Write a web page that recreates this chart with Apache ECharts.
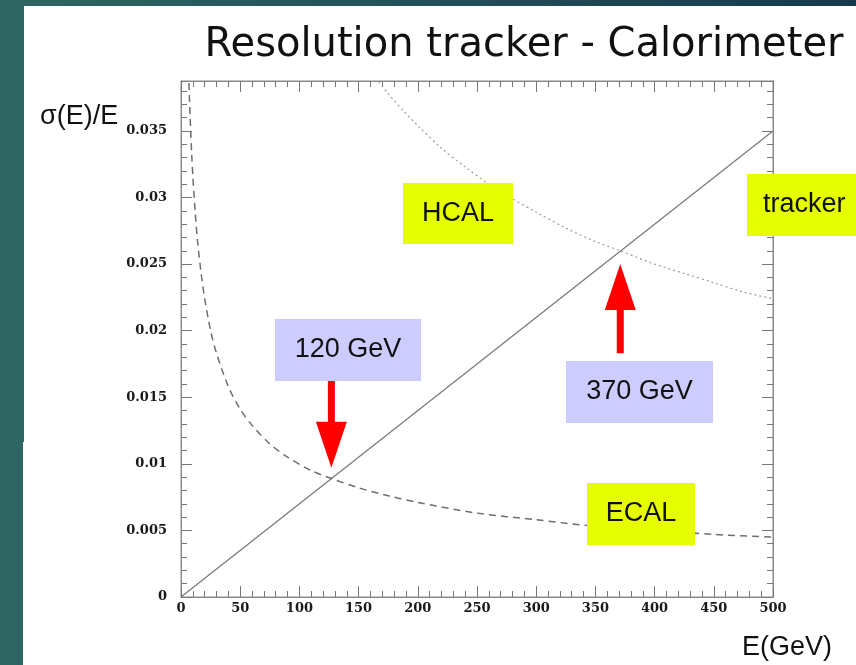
<!DOCTYPE html>
<html>
<head>
<meta charset="utf-8">
<script src="https://cdn.jsdelivr.net/npm/echarts@6/dist/echarts.min.js"></script>
<style>
  html, body { margin: 0; padding: 0; background: #ffffff; }
  #chart { width: 856px; height: 665px; }
</style>
</head>
<body>
<div id="chart"></div>
<script>
// Energy resolution sigma(E)/E versus energy E (GeV)
const trackerEnergy = [0, 500];
const trackerRes    = [0, 0.035];

const ecalEnergy = [6.7, 7, 8, 9, 10, 12, 14, 17, 20, 25, 30, 40, 50, 60, 75, 90, 110, 127, 150, 175, 200, 250, 300, 350, 400, 450, 500];
const ecalRes    = [0.0386, 0.0378, 0.0354, 0.0333, 0.0316, 0.0289, 0.0267, 0.0243, 0.0224, 0.0200, 0.0183, 0.0158, 0.0141, 0.0129, 0.0115, 0.0105, 0.0095, 0.0089, 0.0082, 0.0076, 0.0071, 0.0063, 0.0058, 0.0053, 0.0050, 0.0047, 0.0045];

const hcalEnergy = [167, 175, 190, 200, 220, 240, 260, 280, 300, 325, 350, 371, 400, 425, 450, 475, 500];
const hcalRes    = [0.0387, 0.0378, 0.0363, 0.0354, 0.0337, 0.0323, 0.0310, 0.0299, 0.0289, 0.0277, 0.0267, 0.0260, 0.0250, 0.0243, 0.0236, 0.0229, 0.0224];

// Arrows marking where the tracker line crosses each calorimeter curve
const crossEnergy = [127, 371];
const arrowTip    = [0.0097, 0.0250];
const arrowTail   = [0.0169, 0.0183];

const pairs = (xs, ys) => xs.map((x, i) => [x, ys[i]]);

const tickFont = { fontFamily: 'DejaVu Serif', fontWeight: 'bold', fontSize: 13, color: '#1a1a1a' };
const frameColor = '#8a8a8a';

function xAxisDef(pos) {
  return {
    type: 'value', position: pos, min: 0, max: 500, interval: 50,
    axisLine: { show: true, onZero: false, lineStyle: { color: frameColor, width: 1 } },
    axisTick: { show: true, inside: true, length: 11, lineStyle: { color: '#777', width: 1 } },
    minorTick: { show: true, splitNumber: 5, length: 6, lineStyle: { color: '#777', width: 1 } },
    axisLabel: pos === 'bottom'
      ? Object.assign({ show: true, margin: 5 }, tickFont)
      : { show: false },
    splitLine: { show: false }, minorSplitLine: { show: false }
  };
}

function yAxisDef(pos, step, len, labels) {
  return {
    type: 'value', position: pos, min: 0, max: 0.03875, interval: step, offset: 0,
    axisLine: { show: true, onZero: false, lineStyle: { color: frameColor, width: 1 } },
    axisTick: { show: true, inside: true, length: len, lineStyle: { color: '#777', width: 1 } },
    axisLabel: labels
      ? Object.assign({
          show: true, margin: 14, showMaxLabel: false,
          formatter: v => (v === 0 ? '0' : String(+v.toFixed(4)))
        }, tickFont)
      : { show: false },
    splitLine: { show: false }
  };
}

const chart = echarts.init(document.getElementById('chart'), null, { renderer: 'canvas' });

const option = {
  backgroundColor: '#ffffff',
  animation: false,
  title: {
    text: 'Resolution tracker - Calorimeter',
    left: 519, top: 21, textAlign: 'center',
    textStyle: { fontFamily: 'DejaVu Sans', fontWeight: 'normal', fontSize: 40, color: '#111' }
  },
  grid: {
    left: 181, top: 81, width: 592, height: 516,
    show: true, borderColor: frameColor, borderWidth: 1, backgroundColor: 'transparent',
    containLabel: false, outerBoundsMode: 'none'
  },
  xAxis: [xAxisDef('bottom'), xAxisDef('top')],
  yAxis: [
    yAxisDef('left', 0.005, 11, true),
    yAxisDef('left', 0.001, 6, false),
    yAxisDef('right', 0.005, 11, false),
    yAxisDef('right', 0.001, 6, false)
  ],
  series: [
    {
      name: 'tracker', type: 'line', showSymbol: false, xAxisIndex: 0, yAxisIndex: 0,
      data: pairs(trackerEnergy, trackerRes),
      lineStyle: { color: '#7a7a7a', width: 1.3 }, z: 3
    },
    {
      name: 'ECAL', type: 'line', showSymbol: false, smooth: 0.3, xAxisIndex: 0, yAxisIndex: 0,
      data: pairs(ecalEnergy, ecalRes),
      lineStyle: { color: '#6e6e6e', width: 1.5, type: [7, 5] }, z: 3
    },
    {
      name: 'HCAL', type: 'line', showSymbol: false, smooth: 0.3, xAxisIndex: 0, yAxisIndex: 0,
      data: pairs(hcalEnergy, hcalRes),
      lineStyle: { color: '#9a9a9a', width: 1.2, type: [2, 3] }, z: 3
    }
  ]
};

chart.setOption(option);

// Labels, annotation boxes and arrows drawn on top of the plot
function labelBox(x, y, w, h, fill, text, textX) {
  const centred = textX === undefined;
  return {
    type: 'group', z: 100,
    children: [
      { type: 'rect', shape: { x: x, y: y, width: w, height: h }, style: { fill: fill }, z: 100 },
      {
        type: 'text', x: centred ? x + w / 2 : textX, y: y + h / 2, z: 101,
        style: {
          text: text, fill: '#111', font: '27px "Liberation Sans", Arial, sans-serif',
          align: centred ? 'center' : 'left', verticalAlign: 'middle'
        }
      }
    ]
  };
}

function arrow(i) {
  const tip = chart.convertToPixel({ xAxisIndex: 0, yAxisIndex: 0 }, [crossEnergy[i], arrowTip[i]]);
  const tail = chart.convertToPixel({ xAxisIndex: 0, yAxisIndex: 0 }, [crossEnergy[i], arrowTail[i]]);
  const dir = tail[1] < tip[1] ? 1 : -1;   // 1: pointing down
  const headLen = 46, headHalf = 15.5, shaftHalf = 3.5;
  const base = tip[1] - dir * headLen;
  const cx = tip[0];
  return {
    type: 'polygon', z: 90,
    shape: {
      points: [
        [cx - shaftHalf, tail[1]], [cx + shaftHalf, tail[1]],
        [cx + shaftHalf, base], [cx + headHalf, base],
        [cx, tip[1]],
        [cx - headHalf, base], [cx - shaftHalf, base]
      ]
    },
    style: { fill: '#ff0000' }
  };
}

const yellow = '#e6ff00';
const lavender = '#ccccff';

chart.setOption({
  graphic: [
    // slide frame: teal strip on the left, gradient band on top
    { type: 'rect', shape: { x: 0, y: 0, width: 24, height: 442 }, style: { fill: '#2f6663' }, z: 1 },
    { type: 'rect', shape: { x: 0, y: 442, width: 23, height: 223 }, style: { fill: '#2f6663' }, z: 1 },
    {
      type: 'rect', shape: { x: 0, y: 0, width: 856, height: 6 }, z: 1,
      style: { fill: new echarts.graphic.LinearGradient(0, 0, 1, 0, [
        { offset: 0, color: '#2f6663' }, { offset: 1, color: '#16394e' }
      ]) }
    },
    {
      type: 'text', x: 40, y: 117, z: 50,
      style: { text: 'σ(E)/E', fill: '#111', font: '27px "Liberation Sans", Arial, sans-serif', align: 'left', verticalAlign: 'middle' }
    },
    {
      type: 'text', x: 832, y: 648, z: 50,
      style: { text: 'E(GeV)', fill: '#111', font: '27px "Liberation Sans", Arial, sans-serif', align: 'right', verticalAlign: 'middle' }
    },
    labelBox(403, 183, 110, 61, yellow, 'HCAL'),
    labelBox(747, 174, 112, 62, yellow, 'tracker', 763),
    labelBox(587, 483, 108, 62, yellow, 'ECAL'),
    labelBox(275, 319, 146, 62, lavender, '120 GeV'),
    labelBox(566, 361, 147, 62, lavender, '370 GeV'),
    arrow(0),
    arrow(1)
  ]
});
</script>
</body>
</html>
